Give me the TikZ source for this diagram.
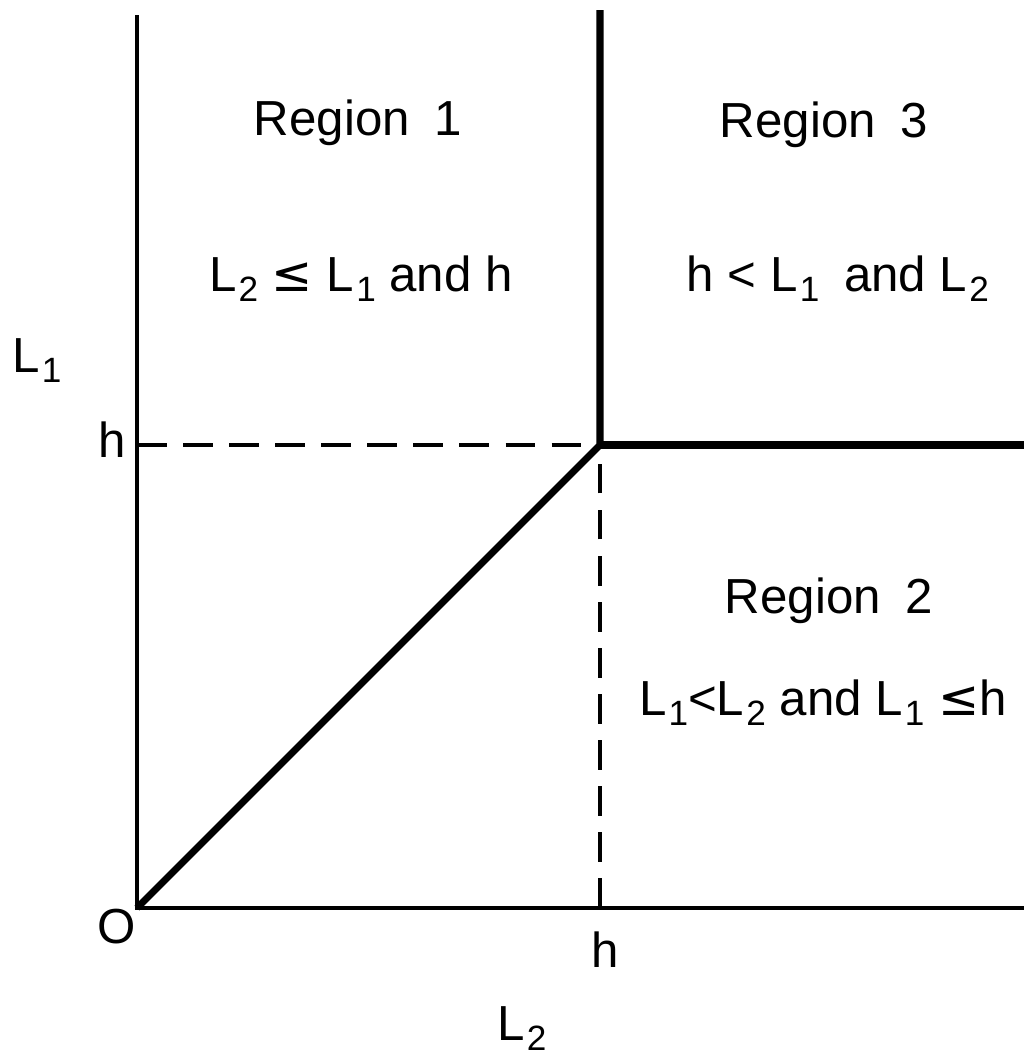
\documentclass[tikz,border=0pt]{standalone}
\usepackage{fontspec}
\setmainfont{Liberation Sans}
\newfontfamily\symfont{DejaVu Sans}
\newcommand{\Lsub}[1]{L\kern0.6pt\raisebox{-3.1pt}{\fontsize{10}{10}\selectfont #1}}
\newcommand{\lesym}{{\symfont ≤}}
\newcommand{\gap}{\hspace{0.5em}}

\begin{document}
\begin{tikzpicture}[x=0.01cm, y=0.01cm,
  every node/.style={font=\fontsize{14}{16}\selectfont, inner sep=0pt, anchor=base},
  axis/.style={line width=1.1pt},
  bound/.style={line width=2pt, line join=round},
  guide/.style={line width=1.1pt, dash pattern=on 8.5pt off 4.6pt}]
  \useasboundingbox (-137,-145) rectangle (887,908);
  % corner points
  \coordinate (O) at (0,0);
  \coordinate (ytop) at (0,893);
  \coordinate (xend) at (887,0);
  \coordinate (C) at (463,463);
  \coordinate (Cx) at (463,0);
  \coordinate (Cy) at (0,463);
  \coordinate (Ctop) at (463,898);
  \coordinate (Cend) at (887,463);
  % axes
  \draw[axis] (ytop) -- (O) -- (xend);
  % region boundaries
  \draw[bound] (O) -- (C) -- (Ctop);
  \draw[bound] (C) -- (Cend);
  \draw[guide] (Cy) -- (C);
  \draw[guide] (Cx) -- (C);
  % labels
  \node (reg1) at (221,773) {Region\gap 1};
  \node (cond1) at (224,617) {\Lsub{2} \lesym\ \Lsub{1} and h};
  \node (reg3) at (687,771) {Region\gap 3};
  \node (cond3) at (701,617) {h < \Lsub{1}\gap and \Lsub{2}};
  \node (reg2) at (692,295) {Region\gap 2};
  \node (cond2) at (686,193) {\Lsub{1}<\Lsub{2} and \Lsub{1} \lesym h};
  \node (ylab) at (-100,536) {\Lsub{1}};
  \node (hy) at (-25,451) {h};
  \node (orig) at (-20,-35) {O};
  \node (hx) at (468,-59) {h};
  \node (xlab) at (385,-132) {\Lsub{2}};
\end{tikzpicture}
\end{document}
